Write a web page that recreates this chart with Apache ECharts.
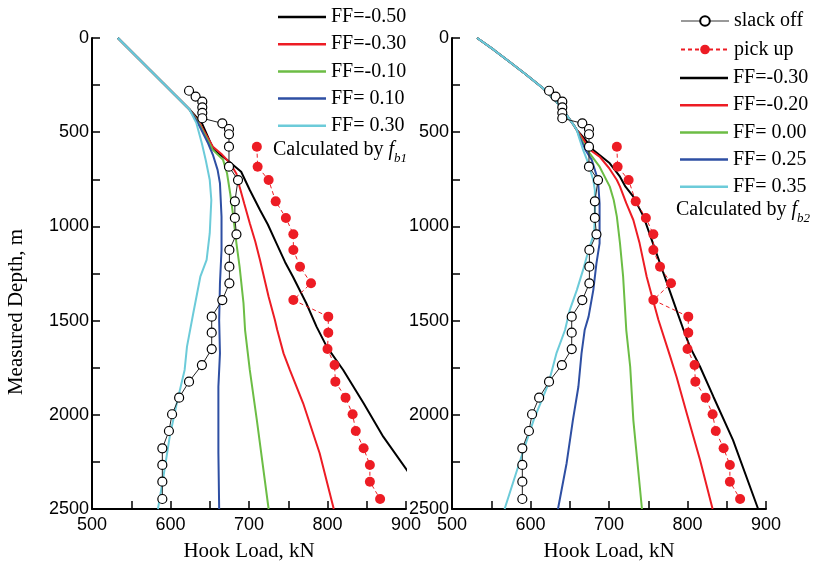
<!DOCTYPE html>
<html>
<head>
<meta charset="utf-8">
<script src="https://cdn.jsdelivr.net/npm/echarts@6/dist/echarts.min.js"></script>
<style>html,body{margin:0;padding:0;background:#fff;}#c{width:817px;height:569px;}</style>
</head>
<body>
<div id="c"></div>
<script>
// ---- data: [hook load kN, measured depth m] ----
const xTicks = [500, 600, 700, 800, 900];
const yTicks = [0, 500, 1000, 1500, 2000, 2500];

const slackDepth = [280,311,338,368,397,426,453,483,511,577,683,754,867,955,1042,1125,1214,1302,1391,1479,1564,1651,1736,1824,1909,1997,2086,2178,2266,2355,2447];
const slackLoad  = [623.6,632,640.5,640.5,640.5,640.5,666,674.5,674.5,674.5,674.5,686,682,682,684,675,675,675,666,652.5,652.5,652.5,640,623.6,611,602,598,589.6,589.6,589.6,589.6];

const pickDepth = [577,683,754,867,955,1042,1125,1214,1302,1391,1479,1564,1651,1736,1824,1909,1997,2086,2178,2266,2355,2447];
const pickLoad  = [710,711,725,734,747,756.5,756.5,765,779,756.5,801,801,800,809,810,823,832,836,846,854,854,867];

// left panel (f_b1) – shared upper part
const leftTop = [[533,0],[624,378]];
const L_FFm050 = [[640,452],[655,594],[673,650],[690,710],[701,807],[714,913],[724,990],[735,1090],[746,1190],[756,1267],[773,1408],[786,1532],[799,1638],[820,1762],[846,1939],[871,2116],[901,2293],[937,2500]];
const L_FFm030 = [[637,452],[654,577],[666,620],[676,665],[684,720],[688,789],[694,880],[701,983],[708,1080],[714,1178],[725,1373],[733,1497],[736,1550],[744,1674],[752,1762],[769,1939],[790,2204],[808,2500]];
const L_FFm010 = [[636,452],[654,594],[667,647],[672,718],[676,824],[680,948],[684,1090],[688,1214],[693,1408],[695,1550],[701,1762],[710,2028],[725,2500]];
const L_FF010  = [[635,452],[648,560],[654,620],[660,700],[663,771],[665,948],[665,1125],[663,1302],[662,1500],[663,1674],[661,1851],[661,2200],[662,2500]];
const L_FF030  = [[633,452],[640,560],[645,650],[650,754],[652,860],[650,1036],[646,1178],[638,1267],[629,1461],[621,1638],[618,1762],[608,1939],[599,2116],[591,2328],[584,2500]];

// right panel (f_b2) – shared upper part
const rightTop = [[532,0],[553,62],[574,129],[595,196],[616,267],[633,338],[646,409],[655,462],[659,488]];
const R_FFm030 = [[668,530],[680,594],[701,665],[714,736],[721,789],[731,842],[744,948],[756,1090],[765,1196],[774,1302],[786,1444],[795,1550],[803,1638],[816,1745],[833,1904],[858,2134],[890,2500]];
const R_FFm020 = [[666,530],[676,594],[688,630],[700,690],[710,754],[714,789],[722,877],[731,966],[739,1090],[748,1267],[756,1391],[763,1497],[778,1691],[786,1798],[799,1992],[816,2240],[832,2500]];
const R_FF000  = [[664,530],[672,594],[688,683],[701,789],[706,860],[710,948],[714,1090],[718,1267],[722,1550],[727,1745],[731,2028],[742,2500]];
const R_FF025  = [[663,530],[670,594],[678,647],[686,754],[688,877],[688,983],[688,1090],[684,1196],[680,1338],[674,1479],[669,1550],[665,1674],[661,1851],[654,2028],[646,2257],[635,2500]];
const R_FF035  = [[662,530],[667,594],[672,647],[680,754],[682,807],[682,948],[681,1037],[674,1125],[667,1231],[659,1338],[650,1444],[644,1550],[633,1674],[623,1833],[604,2028],[587,2240],[567,2500]];

// ---- styling ----
const C = {black:'#000000', red:'#ed1c24', green:'#6cbd45', blue:'#2e4fa3', cyan:'#6ccbd9'};
const SANS = 'Liberation Sans';
const SERIF = 'Liberation Serif';

const pairs = (xs, ys) => xs.map((v, i) => [v, ys[i]]);
const slackData = pairs(slackLoad, slackDepth);
const pickData = pairs(pickLoad, pickDepth);
const plain = v => String(v);

function xAxisDef(gi) {
  return {
    type: 'value', gridIndex: gi, position: 'bottom',
    min: xTicks[0], max: xTicks[xTicks.length - 1], interval: 100,
    axisLine: {show: true, onZero: false, lineStyle: {color: '#000', width: 2}},
    axisTick: {show: true, inside: true, length: 8, lineStyle: {color: '#000', width: 1.5}},
    minorTick: {show: true, splitNumber: 2, length: 8, lineStyle: {color: '#000', width: 1.5}},
    splitLine: {show: false},
    axisLabel: {color: '#000', fontFamily: SANS, fontSize: 18, margin: 7, formatter: plain, showMinLabel: true, showMaxLabel: true},
    name: 'Hook Load, kN', nameLocation: 'middle', nameGap: 32,
    nameTextStyle: {color: '#000', fontFamily: SERIF, fontSize: 21}
  };
}
function yAxisDef(gi) {
  return {
    type: 'value', gridIndex: gi, inverse: true, position: 'left',
    min: yTicks[0], max: yTicks[yTicks.length - 1], interval: 500,
    axisLine: {show: true, onZero: false, lineStyle: {color: '#000', width: 2}},
    axisTick: {show: true, inside: true, length: 8, lineStyle: {color: '#000', width: 1.5}},
    minorTick: {show: true, splitNumber: 2, length: 8, lineStyle: {color: '#000', width: 1.5}},
    splitLine: {show: false},
    axisLabel: {color: '#000', fontFamily: SANS, fontSize: 18, margin: 3, formatter: plain, showMinLabel: true, showMaxLabel: true}
  };
}
function lineSeries(name, gi, data, color) {
  return {
    name, type: 'line', xAxisIndex: gi, yAxisIndex: gi, data,
    symbol: 'none', smooth: false, clip: true,
    lineStyle: {color, width: 2}, itemStyle: {color}, z: 2
  };
}
function slackSeries(name, gi) {
  return {
    name, type: 'line', xAxisIndex: gi, yAxisIndex: gi, data: slackData,
    symbol: 'circle', symbolSize: 9, showSymbol: true,
    lineStyle: {color: '#222', width: 1},
    itemStyle: {color: '#fff', borderColor: '#000', borderWidth: 1.2}, z: 3
  };
}
function pickSeries(name, gi) {
  return {
    name, type: 'line', xAxisIndex: gi, yAxisIndex: gi, data: pickData,
    symbol: 'circle', symbolSize: 10, showSymbol: true,
    lineStyle: {color: C.red, width: 1, type: [4, 3]},
    itemStyle: {color: C.red}, z: 3
  };
}

const legendText = {color: '#000', fontFamily: SERIF, fontSize: 20, lineHeight: 20};
const strip = n => n.replace(/^R /, '');
const lineLegend = (left, top, gap, names) => ({
  orient: 'vertical', left, top, itemWidth: 48, itemHeight: 2.5, itemGap: gap, icon: 'rect',
  selectedMode: false, textStyle: legendText, formatter: strip, data: names
});

const subRich = {
  n: {fontFamily: SERIF, fontSize: 20, lineHeight: 30, verticalAlign: 'middle', fill: '#000'},
  i: {fontFamily: SERIF, fontSize: 20, fontStyle: 'italic', lineHeight: 30, verticalAlign: 'middle', fill: '#000'},
  s: {fontFamily: SERIF, fontSize: 13, fontStyle: 'italic', lineHeight: 30, verticalAlign: 'bottom', fill: '#000'}
};

const option = {
  animation: false,
  backgroundColor: '#fff',
  grid: [
    {left: 92, top: 38, width: 314, height: 471, containLabel: false},
    {left: 452, top: 38, width: 314, height: 471, containLabel: false}
  ],
  xAxis: [xAxisDef(0), xAxisDef(1)],
  yAxis: [yAxisDef(0), yAxisDef(1)],
  legend: [
    lineLegend(273, 2, 7.2, ['FF=-0.50', 'FF=-0.30', 'FF=-0.10', 'FF= 0.10', 'FF= 0.30']),
    {
      orient: 'vertical', left: 675, top: 6, itemWidth: 48, itemHeight: 12, itemGap: 8.5,
      selectedMode: false, textStyle: legendText,
      data: [
        {name: 'slack off', lineStyle: {color: '#777', width: 1.5}},
        'pick up'
      ]
    },
    lineLegend(675, 63, 7.2, ['R FF=-0.30', 'R FF=-0.20', 'R FF= 0.00', 'R FF= 0.25', 'R FF= 0.35'])
  ],
  graphic: [
    {type: 'text', x: 16, y: 312, rotation: Math.PI / 2,
     style: {text: 'Measured Depth, m', fill: '#000', font: '21px "Liberation Serif"', align: 'center', verticalAlign: 'middle'}},
    {type: 'text', x: 273, y: 150,
     style: {text: '{n|Calculated by }{i|f}{s|b1}', verticalAlign: 'middle', align: 'left', rich: subRich}},
    {type: 'text', x: 676, y: 210,
     style: {text: '{n|Calculated by }{i|f}{s|b2}', verticalAlign: 'middle', align: 'left', rich: subRich}}
  ],
  series: [
    lineSeries('FF=-0.50', 0, leftTop.concat(L_FFm050), C.black),
    lineSeries('FF=-0.30', 0, leftTop.concat(L_FFm030), C.red),
    lineSeries('FF=-0.10', 0, leftTop.concat(L_FFm010), C.green),
    lineSeries('FF= 0.10', 0, leftTop.concat(L_FF010), C.blue),
    lineSeries('FF= 0.30', 0, leftTop.concat(L_FF030), C.cyan),
    slackSeries('L slack off', 0),
    pickSeries('L pick up', 0),
    lineSeries('R FF=-0.30', 1, rightTop.concat(R_FFm030), C.black),
    lineSeries('R FF=-0.20', 1, rightTop.concat(R_FFm020), C.red),
    lineSeries('R FF= 0.00', 1, rightTop.concat(R_FF000), C.green),
    lineSeries('R FF= 0.25', 1, rightTop.concat(R_FF025), C.blue),
    lineSeries('R FF= 0.35', 1, rightTop.concat(R_FF035), C.cyan),
    slackSeries('slack off', 1),
    pickSeries('pick up', 1)
  ]
};
const chart = echarts.init(document.getElementById('c'), null, {renderer: 'canvas'});
chart.setOption(option);
</script>
</body>
</html>
